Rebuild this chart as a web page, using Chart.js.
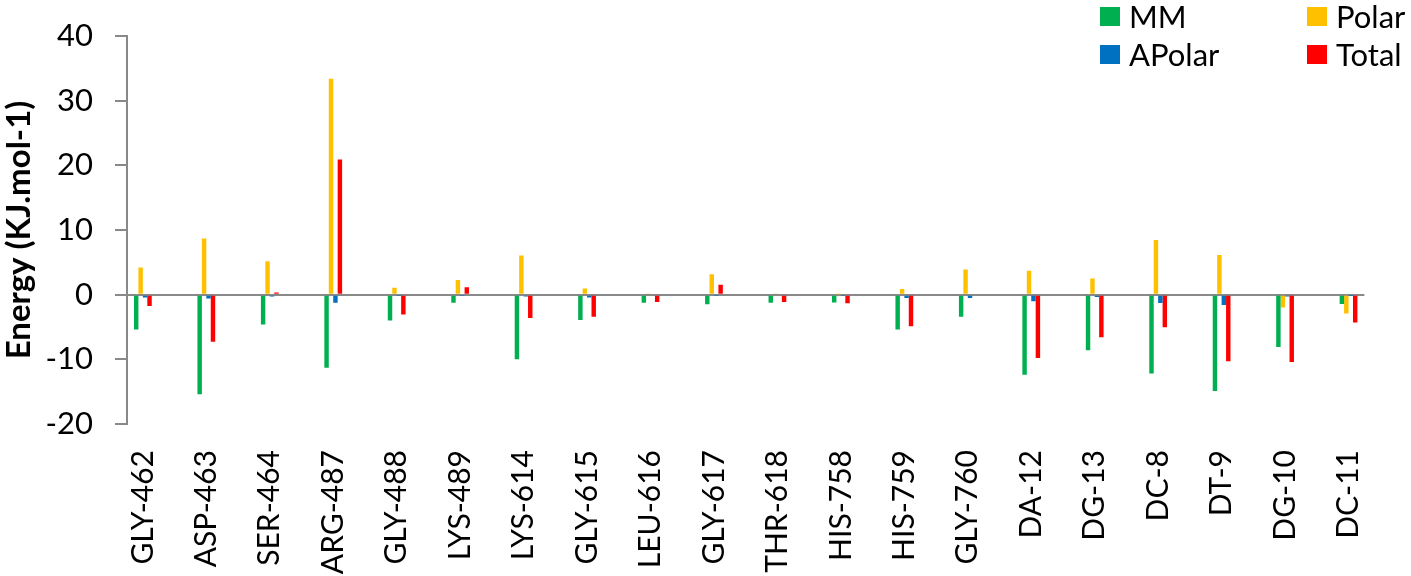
<!DOCTYPE html>
<html>
<head>
<meta charset="utf-8">
<script src="https://cdn.jsdelivr.net/npm/chart.js@4/dist/chart.umd.min.js"></script>
<style>
  html, body { margin: 0; padding: 0; background: #fff; }
  #wrap { width: 1411px; height: 576px; position: relative; }
</style>
</head>
<body>
<div id="wrap"><canvas id="myChart"></canvas></div>
<script>
// residues along the x axis
const categories = ["GLY-462", "ASP-463", "SER-464", "ARG-487", "GLY-488", "LYS-489", "LYS-614",
    "GLY-615", "LEU-616", "GLY-617", "THR-618", "HIS-758", "HIS-759", "GLY-760",
    "DA-12", "DG-13", "DC-8", "DT-9", "DG-10", "DC-11"];

// energy terms (KJ/mol)
const mmValues = [-5.4, -15.4, -4.6, -11.3, -4.0, -1.25, -10.0, -3.9, -1.25, -1.5, -1.25, -1.2, -5.4, -3.4, -12.4, -8.6, -12.2, -14.9, -8.1, -1.45];
const polarValues = [4.2, 8.7, 5.15, 33.4, 1.08, 2.26, 6.07, 0.97, 0.1, 3.14, 0.1, 0.05, 0.88, 3.9, 3.7, 2.5, 8.45, 6.12, -2.0, -2.9];
const apolarValues = [-0.45, -0.6, -0.3, -1.25, -0.1, -0.1, -0.3, -0.45, 0, -0.1, 0, -0.1, -0.5, -0.5, -1.0, -0.35, -1.3, -1.6, -0.3, -0.05];
const totalValues = [-1.75, -7.3, 0.35, 20.9, -3.05, 1.13, -3.6, -3.4, -1.14, 1.54, -1.14, -1.33, -4.9, 0, -9.8, -6.6, -5.05, -10.3, -10.4, -4.3];

const yTicks = [-20, -10, 0, 10, 20, 30, 40];

const FONT = "Lato";
const AXIS_GREY = "#898989";

// bar charts on a linear x scale need {x, y} points
function toPoints(values) {
    return values.map((v, i) => ({ x: i, y: v }));
}

// two-column legend in the top right corner, like the original
const cornerLegend = {
    id: "cornerLegend",
    afterDraw(chart) {
        const ctx = chart.ctx;
        const slots = [[1100, 16.5], [1307, 16.5], [1100, 54.5], [1307, 54.5]];
        ctx.save();
        ctx.font = `31px ${FONT}`;
        ctx.textBaseline = "middle";
        ctx.textAlign = "left";
        chart.data.datasets.forEach((ds, i) => {
            const [x, y] = slots[i];
            ctx.fillStyle = ds.backgroundColor;
            ctx.fillRect(x, y - 9.5, 20, 19);
            ctx.fillStyle = "#000";
            ctx.fillText(ds.label, x + 29, y + 1);
        });
        ctx.restore();
    },
};

const ctx = document.getElementById("myChart").getContext("2d");
const myChart = new Chart(ctx, {
    type: "bar",
    data: {
        datasets: [
            { label: "MM", data: toPoints(mmValues), backgroundColor: "#00B050" },
            { label: "Polar", data: toPoints(polarValues), backgroundColor: "#FFC000" },
            { label: "APolar", data: toPoints(apolarValues), backgroundColor: "#0070C0" },
            { label: "Total", data: toPoints(totalValues), backgroundColor: "#FF0000" },
        ],
    },
    options: {
        responsive: true,
        maintainAspectRatio: false,
        animation: false,
        categoryPercentage: 0.28,
        barPercentage: 1,
        layout: { padding: { left: 0, right: 37, top: 36, bottom: 0 } },
        plugins: {
            legend: { display: false },
            tooltip: { enabled: false },
        },
        scales: {
            x: {
                type: "linear",
                offset: false,
                min: -0.25,
                max: categories.length - 0.75,
                grid: { display: false, drawTicks: false, offset: false },
                border: { display: false },
                ticks: {
                    stepSize: 1,
                    includeBounds: false,
                    autoSkip: false,
                    minRotation: 90,
                    maxRotation: 90,
                    padding: 26,
                    color: "#000",
                    font: { family: FONT, size: 30 },
                    callback: (value) => categories[Math.round(value)] ?? "",
                },
                afterFit: (scale) => { scale.height = 152; },
            },
            y: {
                min: yTicks[0],
                max: yTicks[yTicks.length - 1],
                afterBuildTicks: (scale) => { scale.ticks = yTicks.map((v) => ({ value: v })); },
                grid: {
                    color: (c) => (c.tick && c.tick.value === 0 ? AXIS_GREY : "rgba(0,0,0,0)"),
                    lineWidth: 2,
                    tickColor: AXIS_GREY,
                    tickWidth: 2,
                    tickLength: 12,
                },
                border: { color: AXIS_GREY, width: 2 },
                ticks: {
                    padding: 22,
                    color: "#000",
                    font: { family: FONT, size: 31 },
                },
                title: {
                    display: true,
                    text: "Energy (KJ.mol-1)",
                    color: "#000",
                    font: { family: FONT, size: 33, weight: "bold" },
                    padding: { top: 0, bottom: 0 },
                },
                afterFit: (scale) => {
                    scale.width = 127;
                    scale.paddingTop = 0;
                    scale.paddingBottom = 0;
                },
            },
        },
    },
    plugins: [cornerLegend],
});
</script>
</body>
</html>
